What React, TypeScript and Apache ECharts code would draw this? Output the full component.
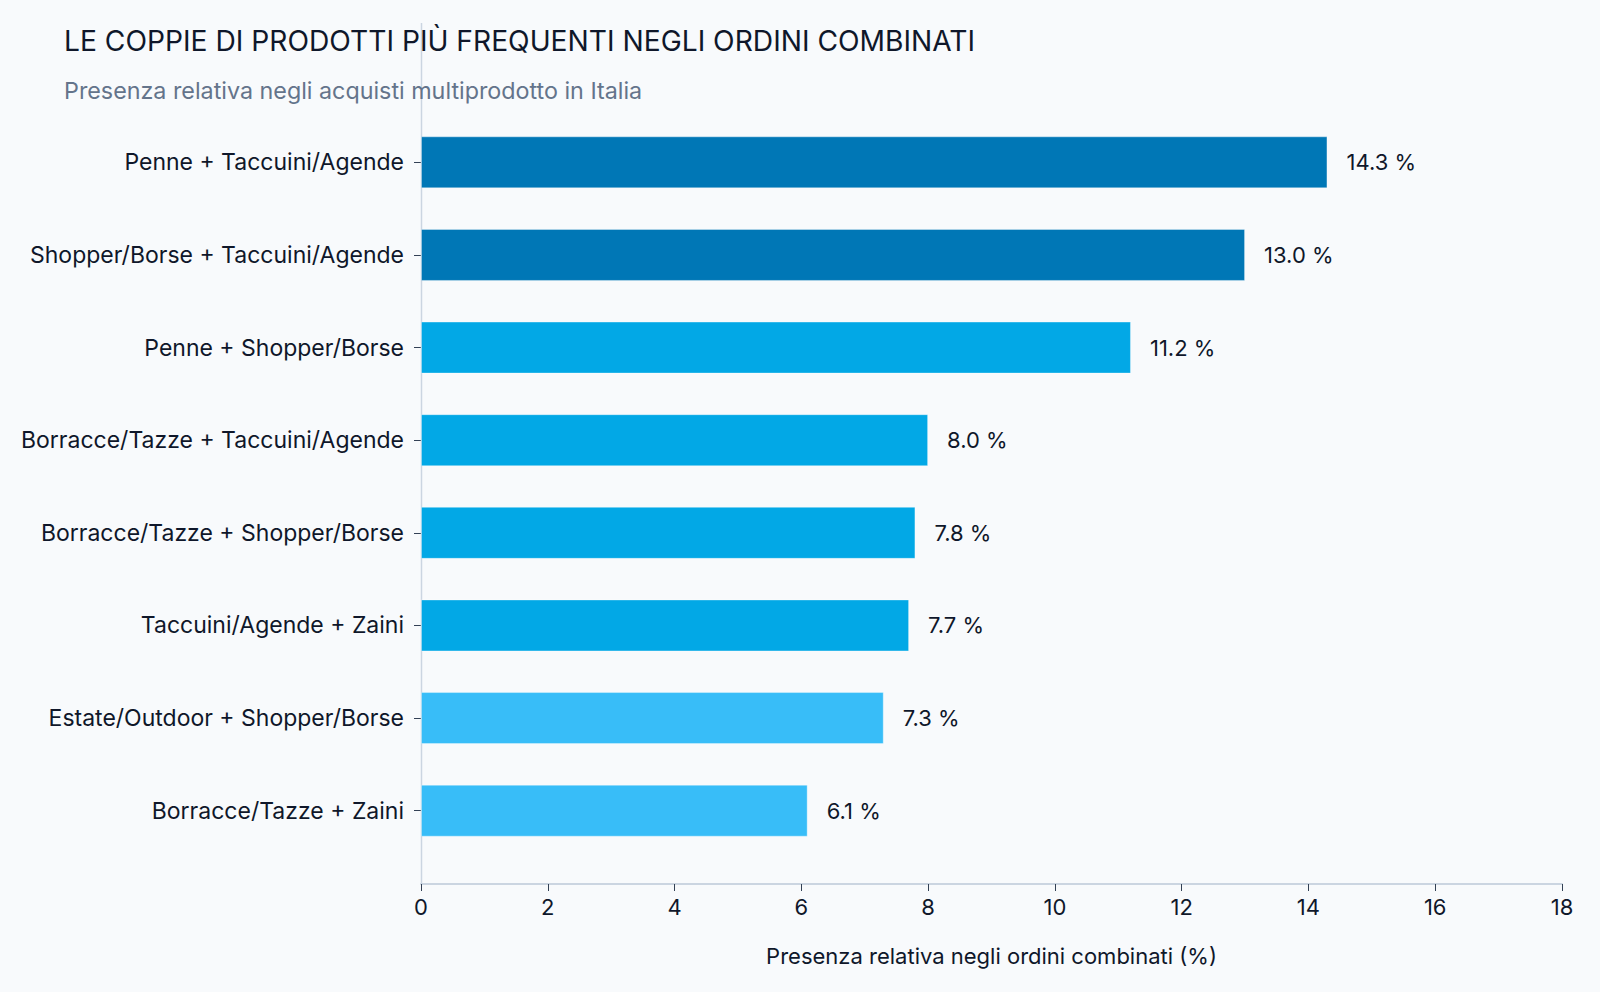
import React, { useEffect, useRef } from "react";
import * as echarts from "echarts";

const categories = [
  "Penne + Taccuini/Agende",
  "Shopper/Borse + Taccuini/Agende",
  "Penne + Shopper/Borse",
  "Borracce/Tazze + Taccuini/Agende",
  "Borracce/Tazze + Shopper/Borse",
  "Taccuini/Agende + Zaini",
  "Estate/Outdoor + Shopper/Borse",
  "Borracce/Tazze + Zaini",
];
const values = [14.3, 13.0, 11.2, 8.0, 7.8, 7.7, 7.3, 6.1];
const tiers = ["high", "high", "mid", "mid", "mid", "mid", "low", "low"];
const xTicks = { min: 0, max: 18, interval: 2 };

const TITLE = "LE COPPIE DI PRODOTTI PIÙ FREQUENTI NEGLI ORDINI COMBINATI";
const SUBTITLE = "Presenza relativa negli acquisti multiprodotto in Italia";
const X_NAME = "Presenza relativa negli ordini combinati (%)";

const tierColors: Record<string, string> = {
  high: "#0077B6",
  mid: "#02A8E6",
  low: "#38BDF8",
};

const FONT = "Inter, 'Noto Sans', sans-serif";
const TEXT = "#0f172a";

export default function App() {
  const ref = useRef<HTMLDivElement>(null);
  useEffect(() => {
    if (!ref.current) return;
    const chart = echarts.init(ref.current, undefined, { renderer: "svg" });
    chart.setOption({
      animation: false,
      backgroundColor: "#f8fafc",
      textStyle: { fontFamily: FONT },
      title: {
        text: TITLE,
        subtext: SUBTITLE,
        left: 59,
        top: 22,
        itemGap: 24,
        textStyle: { fontFamily: FONT, fontSize: 28.2, fontWeight: "normal", color: TEXT },
        subtextStyle: { fontFamily: FONT, fontSize: 23.3, color: "#64748b" },
      },
      graphic: [
        {
          type: "line",
          shape: { x1: 421.5, y1: 23, x2: 421.5, y2: 884 },
          style: { stroke: "#cbd5e1", lineWidth: 1.5 },
          z: 1,
        },
      ],
      grid: { left: 421, right: 38, top: 116, height: 741 },
      xAxis: {
        type: "value",
        min: xTicks.min,
        max: xTicks.max,
        interval: xTicks.interval,
        offset: 27,
        axisLine: { show: true, lineStyle: { color: "#cbd5e1", width: 2 } },
        axisTick: { show: true, length: 7, lineStyle: { color: "#334155", width: 1 } },
        splitLine: { show: false },
        axisLabel: { fontSize: 22, color: TEXT, margin: 12, fontFamily: FONT },
        name: X_NAME,
        nameLocation: "middle",
        nameGap: 61,
        nameTextStyle: { fontSize: 22, color: TEXT, fontFamily: FONT },
      },
      yAxis: {
        type: "category",
        inverse: true,
        data: categories,
        axisLine: { show: false },
        axisTick: { show: true, length: 7, alignWithLabel: true, lineStyle: { color: "#334155" } },
        axisLabel: { fontSize: 23, color: TEXT, margin: 17, fontFamily: FONT },
      },
      series: [
        {
          type: "bar",
          barWidth: 52,
          data: values.map((v, i) => ({
            value: v,
            itemStyle: {
              color: tierColors[tiers[i]],
              borderColor: "rgba(255,255,255,0.35)",
              borderWidth: 1,
            },
          })),
          label: {
            show: true,
            position: "right",
            distance: 19,
            fontSize: 22,
            color: TEXT,
            fontFamily: FONT,
            formatter: (p: any) => `${Number(p.value).toFixed(1)} %`,
          },
        },
      ],
    });
    return () => chart.dispose();
  }, []);
  return (
    <div
      ref={ref}
      style={{ position: "absolute", left: 0, top: 0, width: 1600, height: 992 }}
    />
  );
}
